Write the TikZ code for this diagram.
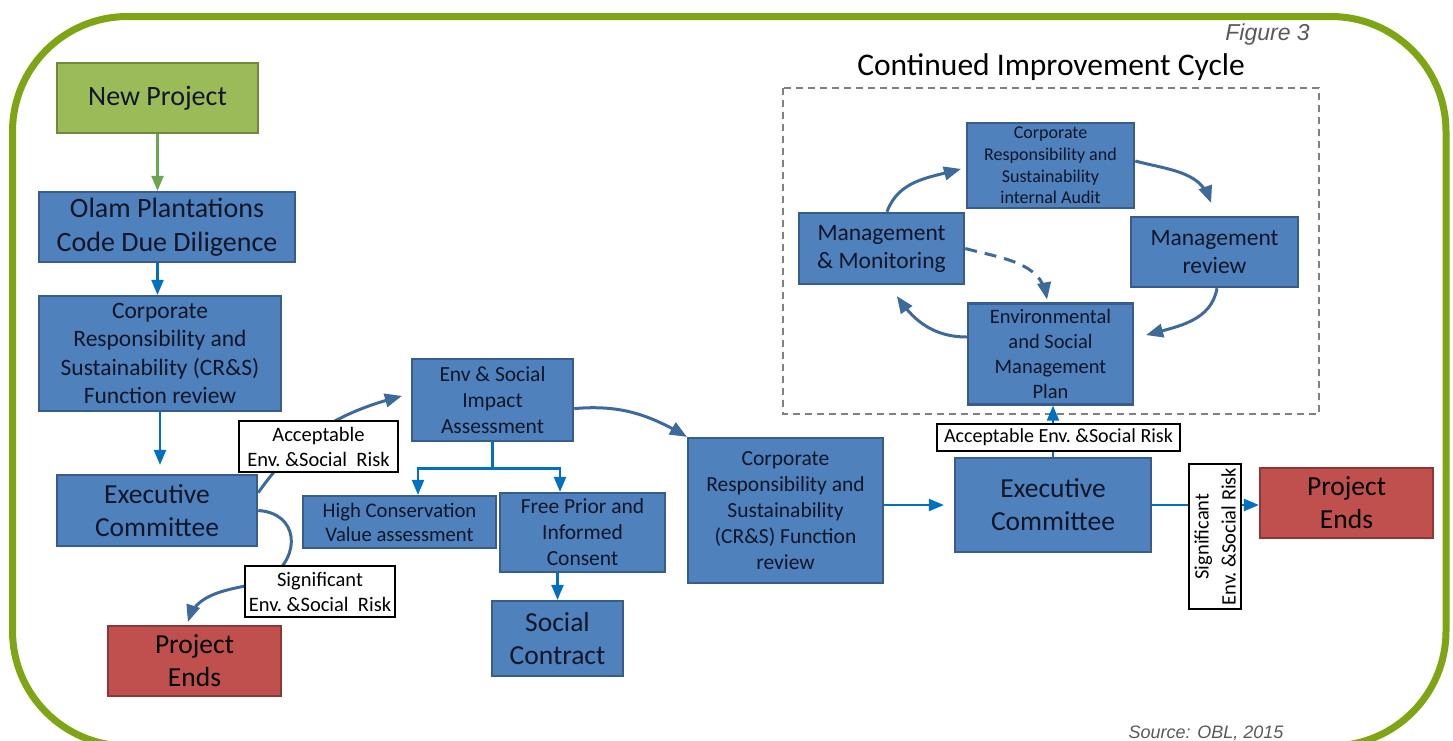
\documentclass[tikz,border=0pt]{standalone}
\usepackage{fontspec}
\setmainfont{Carlito}
\newfontfamily\captfont{Liberation Sans}
\usepackage{tikz}
\usetikzlibrary{arrows}

\definecolor{boxblue}{RGB}{79,129,189}
\definecolor{boxline}{RGB}{56,93,138}
\definecolor{newgreen}{RGB}{155,187,89}
\definecolor{newline}{RGB}{113,137,63}
\definecolor{endred}{RGB}{192,80,77}
\definecolor{endline}{RGB}{140,56,54}
\definecolor{curvblue}{RGB}{62,106,154}
\definecolor{arrblue}{RGB}{0,112,192}
\definecolor{arrgreen}{RGB}{106,168,79}
\definecolor{framegreen}{RGB}{125,165,20}
\definecolor{captgray}{RGB}{89,89,89}
\definecolor{boxtext}{RGB}{16,22,40}

\newcommand{\fsz}[2]{\fontsize{#1}{#2}\selectfont}

\begin{document}
\begin{tikzpicture}[x=1pt,y=1pt,
  blk/.style={draw=boxline,fill=boxblue,line width=2.5pt,inner sep=0pt,align=center,text=boxtext},
  startblk/.style={blk,draw=newline,fill=newgreen},
  endblk/.style={blk,draw=endline,fill=endred,text=black},
  risk/.style={draw=black,fill=white,line width=1.2pt,inner sep=0pt,align=center,text=black},
  flowarr/.style={->,>=triangle 45,color=arrblue,line width=2.5pt},
  curvarr/.style={->,>=triangle 45,color=curvblue,line width=3pt}]
\useasboundingbox (0,0) rectangle (1453,-740);

% outer frame
\draw[framegreen,line width=7pt,rounded corners=115pt] (12.5,-16.5) rectangle (1446,-746);

% captions
\node[font=\captfont\itshape\fsz{23}{27},text=captgray,inner sep=0pt,anchor=base east] (fig) at (1310,-40) {Figure 3};
\node[font=\captfont\itshape\fsz{18}{22},text=captgray,inner sep=0pt,anchor=base] (src) at (1206,-738) {Source: OBL, 2015};
\node[font=\fsz{31.5}{36},inner sep=0pt,anchor=base] (title) at (1051,-75) {Continued Improvement Cycle};

% cycle frame
\draw[gray,line width=1.5pt,dash pattern=on 7pt off 5pt] (783,-88) rectangle (1319,-414);

% left column
\node[startblk,minimum width=201pt,minimum height=70pt,font=\fsz{28}{34}] (new) at (157.5,-98) {New Project};
\node[blk,minimum width=256pt,minimum height=70pt,font=\fsz{28}{34}] (olam) at (167,-227) {Olam Plantations\\Code Due Diligence};
\node[blk,minimum width=242pt,minimum height=115pt,font=\fsz{23.5}{28.5}] (crsA) at (160,-353.5) {Corporate\\Responsibility and\\Sustainability (CR\&S)\\Function review};
\node[blk,minimum width=200pt,minimum height=71pt,font=\fsz{27.5}{33}] (execA) at (157,-510.5) {Executive\\Committee};
\node[endblk,minimum width=173pt,minimum height=70pt,font=\fsz{27.5}{33}] (endA) at (194.5,-661) {Project\\Ends};

% middle
\node[blk,minimum width=161pt,minimum height=82pt,font=\fsz{21.5}{26}] (esia) at (492.5,-400) {Env \& Social\\Impact\\Assessment};
\node[blk,minimum width=193pt,minimum height=52pt,font=\fsz{20.7}{24}] (hcv) at (399.5,-522) {High Conservation\\Value assessment};
\node[blk,minimum width=165pt,minimum height=79pt,font=\fsz{21.5}{26}] (fpic) at (582.5,-532.5) {Free Prior and\\Informed\\Consent};
\node[blk,minimum width=131pt,minimum height=75pt,font=\fsz{27.5}{33}] (social) at (557.5,-638.5) {Social\\Contract};
\node[blk,minimum width=195pt,minimum height=145pt,font=\fsz{21.5}{26}] (crsB) at (785.5,-510.5) {Corporate\\Responsibility and\\Sustainability\\(CR\&S) Function\\review};

% right
\node[blk,minimum width=196pt,minimum height=94pt,font=\fsz{27.5}{33}] (execB) at (1053,-505) {Executive\\Committee};
\node[endblk,minimum width=173pt,minimum height=70pt,font=\fsz{27.5}{33}] (endB) at (1346.5,-503) {Project\\Ends};

% improvement cycle
\node[blk,minimum width=167pt,minimum height=85pt,font=\fsz{18}{21.7}] (audit) at (1050.5,-165.5) {Corporate\\Responsibility and\\Sustainability\\internal Audit};
\node[blk,minimum width=167pt,minimum height=70pt,font=\fsz{23.5}{27.5}] (mrev) at (1214.5,-252) {Management\\review};
\node[blk,minimum width=165pt,minimum height=71pt,font=\fsz{23.5}{28}] (mmon) at (881.5,-248.5) {Management\\\& Monitoring};
\node[blk,minimum width=165pt,minimum height=101pt,font=\fsz{20.5}{25}] (esmp) at (1050.5,-354) {Environmental\\and Social\\Management\\Plan};

% connectors
\path[flowarr,color=arrgreen] (new.south) edge (new.south |- olam.north);
\path[flowarr] (olam.south -| new.south) edge (new.south |- crsA.north)
               (crsA.south) edge[shorten >=9pt] (crsA.south |- execA.north);

\draw[curvarr] (execA.10) to[out=55,in=195] ([xshift=-9pt,yshift=4pt]esia.west);
\draw[curvarr] (execA.east) .. controls (298,-513) and (302,-555) .. (270,-578)
               .. controls (254,-589.5) and (200,-585) .. ([xshift=-6.5pt,yshift=3pt]endA.north);

\draw[flowarr] (esia.south) -- ++(0,-26) -| ([xshift=18.5pt]hcv.north);
\draw[flowarr] (esia.south) -- ++(0,-26) -| ([xshift=-22.5pt]fpic.north);
\path[flowarr] (social.north |- fpic.south) edge (social.north);

\draw[curvarr] (esia.-6) to[out=5,in=150] (crsB.north west);
\path[flowarr] (crsB.east |- execB.west) edge[shorten >=10pt] (execB.west);
\path[flowarr] (execB.east) edge (execB.east -| endB.west);
\path[flowarr] (execB.north) edge (execB.north |- esmp.south);

\draw[curvarr] ([xshift=5.5pt]mmon.north) to[out=70,in=195] ([xshift=-5pt,yshift=-3.5pt]audit.west);
\draw[curvarr] ([yshift=4.5pt]audit.east) to[out=-15,in=110] ([xshift=-3.5pt,yshift=13pt]mrev.north);
\draw[curvarr] ([xshift=2.5pt]mrev.south) to[out=-100,in=15] ([xshift=12pt,yshift=19pt]esmp.east);
\draw[curvarr] ([yshift=17pt]esmp.west) to[out=180,in=-55] ([xshift=15.5pt,yshift=-11pt]mmon.south);
\draw[curvarr,dash pattern=on 12pt off 8pt] (mmon.east) to[out=-15,in=100] ([xshift=-3.5pt,yshift=3pt]esmp.north);

% risk labels
\node[risk,line width=2.5pt,minimum width=159pt,minimum height=51pt,font=\fsz{20.5}{25}] (accA) at (318.5,-446.5) {Acceptable\\Env.\ \&Social\ \ Risk};
\node[risk,minimum width=150pt,minimum height=51pt,font=\fsz{20.5}{25}] (sigA) at (320,-591.5) {Significant\\Env.\ \&Social\ \ Risk};
\node[risk,minimum width=243pt,minimum height=27pt,font=\fsz{20}{24}] (accB) at (1058.5,-437.5) {Acceptable Env.\ \&Social Risk};
\node[risk,rotate=90,minimum width=145pt,minimum height=52pt,font=\fsz{20.5}{27}] (sigB) at (1215,-536.5) {Significant\\Env.\ \&Social Risk};
\end{tikzpicture}
\end{document}
